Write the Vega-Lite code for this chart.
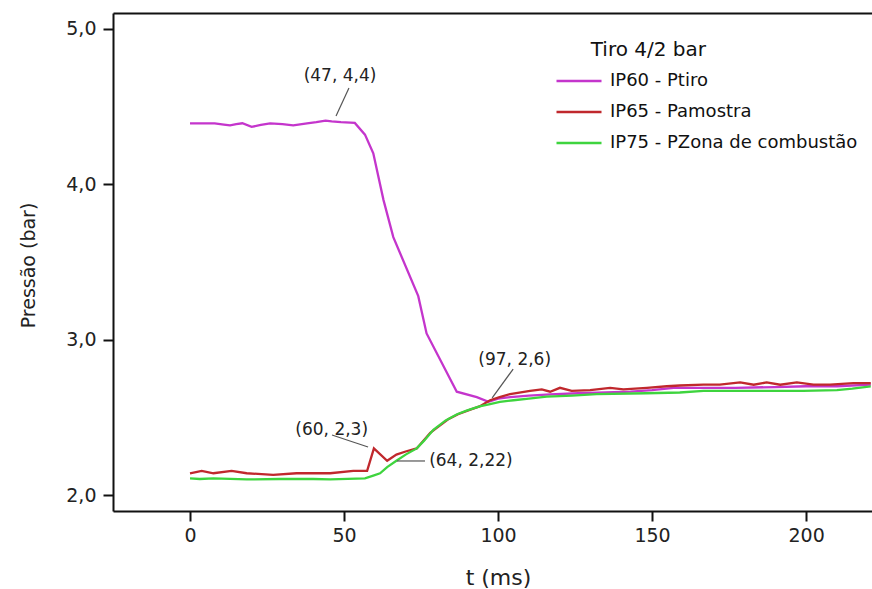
{
  "$schema": "https://vega.github.io/schema/vega-lite/v6.json",
  "width": 759,
  "height": 498,
  "autosize": {"type": "none"},
  "padding": {"left": 113, "top": 13, "right": 0, "bottom": 78},
  "background": "white",
  "config": {
    "font": "DejaVu Sans",
    "view": {"stroke": null},
    "axis": {
      "grid": false,
      "domainColor": "#111",
      "domainWidth": 2,
      "tickColor": "#111",
      "tickWidth": 2,
      "tickSize": 10,
      "labelFont": "DejaVu Sans",
      "labelFontSize": 19,
      "labelColor": "#222",
      "titleFont": "DejaVu Sans",
      "titleFontWeight": "normal",
      "titleColor": "#222"
    }
  },
  "datasets": {
    "lines": [
      {"t": 0, "p": 4.393, "s": "IP60 - Ptiro"},
      {"t": 4, "p": 4.393, "s": "IP60 - Ptiro"},
      {"t": 8, "p": 4.393, "s": "IP60 - Ptiro"},
      {"t": 11, "p": 4.385, "s": "IP60 - Ptiro"},
      {"t": 13, "p": 4.38, "s": "IP60 - Ptiro"},
      {"t": 15, "p": 4.388, "s": "IP60 - Ptiro"},
      {"t": 17, "p": 4.393, "s": "IP60 - Ptiro"},
      {"t": 20, "p": 4.37, "s": "IP60 - Ptiro"},
      {"t": 23, "p": 4.382, "s": "IP60 - Ptiro"},
      {"t": 26, "p": 4.393, "s": "IP60 - Ptiro"},
      {"t": 30, "p": 4.387, "s": "IP60 - Ptiro"},
      {"t": 33.5, "p": 4.38, "s": "IP60 - Ptiro"},
      {"t": 38, "p": 4.393, "s": "IP60 - Ptiro"},
      {"t": 41, "p": 4.4, "s": "IP60 - Ptiro"},
      {"t": 44, "p": 4.41, "s": "IP60 - Ptiro"},
      {"t": 46, "p": 4.405, "s": "IP60 - Ptiro"},
      {"t": 49, "p": 4.4, "s": "IP60 - Ptiro"},
      {"t": 53.5, "p": 4.395, "s": "IP60 - Ptiro"},
      {"t": 56.8, "p": 4.32, "s": "IP60 - Ptiro"},
      {"t": 59.5, "p": 4.2, "s": "IP60 - Ptiro"},
      {"t": 62.8, "p": 3.9, "s": "IP60 - Ptiro"},
      {"t": 66, "p": 3.66, "s": "IP60 - Ptiro"},
      {"t": 74.1, "p": 3.28, "s": "IP60 - Ptiro"},
      {"t": 76.8, "p": 3.04, "s": "IP60 - Ptiro"},
      {"t": 86.6, "p": 2.665, "s": "IP60 - Ptiro"},
      {"t": 93.1, "p": 2.63, "s": "IP60 - Ptiro"},
      {"t": 96.9, "p": 2.6, "s": "IP60 - Ptiro"},
      {"t": 100, "p": 2.62, "s": "IP60 - Ptiro"},
      {"t": 104, "p": 2.63, "s": "IP60 - Ptiro"},
      {"t": 110, "p": 2.64, "s": "IP60 - Ptiro"},
      {"t": 117, "p": 2.648, "s": "IP60 - Ptiro"},
      {"t": 126, "p": 2.655, "s": "IP60 - Ptiro"},
      {"t": 135, "p": 2.66, "s": "IP60 - Ptiro"},
      {"t": 143, "p": 2.665, "s": "IP60 - Ptiro"},
      {"t": 150, "p": 2.675, "s": "IP60 - Ptiro"},
      {"t": 157, "p": 2.69, "s": "IP60 - Ptiro"},
      {"t": 165, "p": 2.69, "s": "IP60 - Ptiro"},
      {"t": 177, "p": 2.69, "s": "IP60 - Ptiro"},
      {"t": 190, "p": 2.695, "s": "IP60 - Ptiro"},
      {"t": 200, "p": 2.7, "s": "IP60 - Ptiro"},
      {"t": 210, "p": 2.7, "s": "IP60 - Ptiro"},
      {"t": 221, "p": 2.71, "s": "IP60 - Ptiro"},

      {"t": 0, "p": 2.14, "s": "IP65 - Pamostra"},
      {"t": 3.8, "p": 2.155, "s": "IP65 - Pamostra"},
      {"t": 7.6, "p": 2.14, "s": "IP65 - Pamostra"},
      {"t": 13.5, "p": 2.155, "s": "IP65 - Pamostra"},
      {"t": 18.4, "p": 2.14, "s": "IP65 - Pamostra"},
      {"t": 27, "p": 2.13, "s": "IP65 - Pamostra"},
      {"t": 34.6, "p": 2.14, "s": "IP65 - Pamostra"},
      {"t": 45.5, "p": 2.14, "s": "IP65 - Pamostra"},
      {"t": 53, "p": 2.155, "s": "IP65 - Pamostra"},
      {"t": 57.5, "p": 2.155, "s": "IP65 - Pamostra"},
      {"t": 59.7, "p": 2.3, "s": "IP65 - Pamostra"},
      {"t": 64, "p": 2.22, "s": "IP65 - Pamostra"},
      {"t": 67, "p": 2.26, "s": "IP65 - Pamostra"},
      {"t": 70, "p": 2.28, "s": "IP65 - Pamostra"},
      {"t": 73.6, "p": 2.3, "s": "IP65 - Pamostra"},
      {"t": 78, "p": 2.4, "s": "IP65 - Pamostra"},
      {"t": 80, "p": 2.43, "s": "IP65 - Pamostra"},
      {"t": 84, "p": 2.49, "s": "IP65 - Pamostra"},
      {"t": 87, "p": 2.52, "s": "IP65 - Pamostra"},
      {"t": 91, "p": 2.55, "s": "IP65 - Pamostra"},
      {"t": 94, "p": 2.57, "s": "IP65 - Pamostra"},
      {"t": 97.4, "p": 2.61, "s": "IP65 - Pamostra"},
      {"t": 100.5, "p": 2.63, "s": "IP65 - Pamostra"},
      {"t": 103.9, "p": 2.65, "s": "IP65 - Pamostra"},
      {"t": 110.4, "p": 2.67, "s": "IP65 - Pamostra"},
      {"t": 114.2, "p": 2.68, "s": "IP65 - Pamostra"},
      {"t": 116.9, "p": 2.665, "s": "IP65 - Pamostra"},
      {"t": 120.1, "p": 2.69, "s": "IP65 - Pamostra"},
      {"t": 123.9, "p": 2.67, "s": "IP65 - Pamostra"},
      {"t": 129.9, "p": 2.675, "s": "IP65 - Pamostra"},
      {"t": 136.4, "p": 2.69, "s": "IP65 - Pamostra"},
      {"t": 140.7, "p": 2.68, "s": "IP65 - Pamostra"},
      {"t": 148.3, "p": 2.69, "s": "IP65 - Pamostra"},
      {"t": 154.8, "p": 2.7, "s": "IP65 - Pamostra"},
      {"t": 159, "p": 2.705, "s": "IP65 - Pamostra"},
      {"t": 166.7, "p": 2.71, "s": "IP65 - Pamostra"},
      {"t": 172, "p": 2.71, "s": "IP65 - Pamostra"},
      {"t": 178.6, "p": 2.725, "s": "IP65 - Pamostra"},
      {"t": 183, "p": 2.71, "s": "IP65 - Pamostra"},
      {"t": 187.2, "p": 2.725, "s": "IP65 - Pamostra"},
      {"t": 191.6, "p": 2.71, "s": "IP65 - Pamostra"},
      {"t": 197, "p": 2.725, "s": "IP65 - Pamostra"},
      {"t": 202.4, "p": 2.71, "s": "IP65 - Pamostra"},
      {"t": 207.8, "p": 2.71, "s": "IP65 - Pamostra"},
      {"t": 215.4, "p": 2.72, "s": "IP65 - Pamostra"},
      {"t": 221, "p": 2.72, "s": "IP65 - Pamostra"},

      {"t": 0, "p": 2.107, "s": "IP75 - PZona de combustão"},
      {"t": 3.2, "p": 2.103, "s": "IP75 - PZona de combustão"},
      {"t": 7.6, "p": 2.107, "s": "IP75 - PZona de combustão"},
      {"t": 18.4, "p": 2.1, "s": "IP75 - PZona de combustão"},
      {"t": 29, "p": 2.103, "s": "IP75 - PZona de combustão"},
      {"t": 40, "p": 2.103, "s": "IP75 - PZona de combustão"},
      {"t": 45.5, "p": 2.1, "s": "IP75 - PZona de combustão"},
      {"t": 56.8, "p": 2.107, "s": "IP75 - PZona de combustão"},
      {"t": 59.5, "p": 2.125, "s": "IP75 - PZona de combustão"},
      {"t": 61.7, "p": 2.14, "s": "IP75 - PZona de combustão"},
      {"t": 64, "p": 2.18, "s": "IP75 - PZona de combustão"},
      {"t": 67, "p": 2.22, "s": "IP75 - PZona de combustão"},
      {"t": 70, "p": 2.26, "s": "IP75 - PZona de combustão"},
      {"t": 73.6, "p": 2.3, "s": "IP75 - PZona de combustão"},
      {"t": 76, "p": 2.35, "s": "IP75 - PZona de combustão"},
      {"t": 79, "p": 2.42, "s": "IP75 - PZona de combustão"},
      {"t": 83, "p": 2.48, "s": "IP75 - PZona de combustão"},
      {"t": 86.7, "p": 2.52, "s": "IP75 - PZona de combustão"},
      {"t": 90, "p": 2.545, "s": "IP75 - PZona de combustão"},
      {"t": 94, "p": 2.57, "s": "IP75 - PZona de combustão"},
      {"t": 97.4, "p": 2.585, "s": "IP75 - PZona de combustão"},
      {"t": 100.6, "p": 2.6, "s": "IP75 - PZona de combustão"},
      {"t": 105, "p": 2.61, "s": "IP75 - PZona de combustão"},
      {"t": 110, "p": 2.62, "s": "IP75 - PZona de combustão"},
      {"t": 115.8, "p": 2.633, "s": "IP75 - PZona de combustão"},
      {"t": 124, "p": 2.64, "s": "IP75 - PZona de combustão"},
      {"t": 132, "p": 2.65, "s": "IP75 - PZona de combustão"},
      {"t": 148, "p": 2.655, "s": "IP75 - PZona de combustão"},
      {"t": 159, "p": 2.66, "s": "IP75 - PZona de combustão"},
      {"t": 166.7, "p": 2.67, "s": "IP75 - PZona de combustão"},
      {"t": 180, "p": 2.67, "s": "IP75 - PZona de combustão"},
      {"t": 199, "p": 2.67, "s": "IP75 - PZona de combustão"},
      {"t": 210, "p": 2.675, "s": "IP75 - PZona de combustão"},
      {"t": 215, "p": 2.685, "s": "IP75 - PZona de combustão"},
      {"t": 221, "p": 2.7, "s": "IP75 - PZona de combustão"}
    ],
    "notes": [
      {"label": "(47, 4,4)", "tx": 48.7, "ty": 4.7, "x1": 51.6, "y1": 4.62, "x2": 47.4, "y2": 4.44},
      {"label": "(97, 2,6)", "tx": 105.4, "ty": 2.869, "x1": 104.9, "y1": 2.811, "x2": 98.1, "y2": 2.625},
      {"label": "(60, 2,3)", "tx": 46.0, "ty": 2.419, "x1": 46.1, "y1": 2.386, "x2": 57.8, "y2": 2.309},
      {"label": "(64, 2,22)", "tx": 91.2, "ty": 2.219, "x1": 67.2, "y1": 2.219, "x2": 76.3, "y2": 2.219}
    ]
  },
  "resolve": {"axis": {"x": "independent"}},
  "layer": [
    {
      "data": {"name": "lines"},
      "mark": {"type": "line", "strokeWidth": 2.3},
      "encoding": {
        "x": {
          "field": "t", "type": "quantitative",
          "scale": {"domain": [-25, 221.4], "nice": false, "zero": false},
          "axis": {
            "orient": "bottom",
            "values": [0, 50, 100, 150, 200],
            "labelPadding": 5,
            "title": "t (ms)",
            "titleFontSize": 22,
            "titleX": 385,
            "titleY": 66,
            "titleBaseline": "middle",
            "titleAlign": "center"
          }
        },
        "y": {
          "field": "p", "type": "quantitative",
          "scale": {"domain": [1.897, 5.103], "nice": false, "zero": false},
          "axis": {
            "values": [2, 3, 4, 5],
            "labelExpr": "replace(format(datum.value, '.1f'), '.', ',')",
            "labelPadding": 7,
            "title": "Pressão (bar)",
            "titleFontSize": 19,
            "titleX": -85,
            "titleY": 252,
            "titleBaseline": "middle",
            "titleAlign": "center",
            "titleAngle": -90
          }
        },
        "color": {
          "field": "s", "type": "nominal",
          "scale": {
            "domain": ["IP60 - Ptiro", "IP65 - Pamostra", "IP75 - PZona de combustão"],
            "range": ["#c435cc", "#c0282d", "#3ed43e"]
          },
          "legend": {
            "title": "Tiro 4/2 bar",
            "orient": "none",
            "legendX": 442,
            "legendY": 27,
            "padding": 0,
            "titleFont": "DejaVu Sans",
            "titleFontSize": 20,
            "titleFontWeight": "normal",
            "titleColor": "#111",
            "titleAnchor": "middle",
            "titleAlign": "right",
            "titlePadding": 11,
            "labelFont": "DejaVu Sans",
            "labelFontSize": 18,
            "labelColor": "#111",
            "labelOffset": 7,
            "labelLimit": 400,
            "symbolType": "stroke",
            "symbolSize": 2025,
            "symbolStrokeWidth": 2.5,
            "clipHeight": 20,
            "rowPadding": 11
          }
        }
      }
    },
    {
      "data": {"name": "notes"},
      "mark": {"type": "rule", "color": "#555", "strokeWidth": 1.2},
      "encoding": {
        "x": {
          "field": "x1", "type": "quantitative",
          "axis": {"orient": "top", "labels": false, "ticks": false, "title": null, "domain": true}
        },
        "y": {
          "field": "y1", "type": "quantitative",
          "axis": {
            "values": [2, 3, 4, 5],
            "labelExpr": "replace(format(datum.value, '.1f'), '.', ',')",
            "labelPadding": 7,
            "title": "Pressão (bar)",
            "titleFontSize": 19,
            "titleX": -85,
            "titleY": 252,
            "titleBaseline": "middle",
            "titleAlign": "center",
            "titleAngle": -90
          }
        },
        "x2": {"field": "x2"},
        "y2": {"field": "y2"}
      }
    },
    {
      "data": {"name": "notes"},
      "mark": {"type": "text", "fontSize": 17, "color": "#222", "align": "center", "baseline": "middle"},
      "encoding": {
        "x": {"field": "tx", "type": "quantitative", "axis": null},
        "y": {
          "field": "ty", "type": "quantitative",
          "axis": {
            "values": [2, 3, 4, 5],
            "labelExpr": "replace(format(datum.value, '.1f'), '.', ',')",
            "labelPadding": 7,
            "title": "Pressão (bar)",
            "titleFontSize": 19,
            "titleX": -85,
            "titleY": 252,
            "titleBaseline": "middle",
            "titleAlign": "center",
            "titleAngle": -90
          }
        },
        "text": {"field": "label"}
      }
    }
  ]
}
